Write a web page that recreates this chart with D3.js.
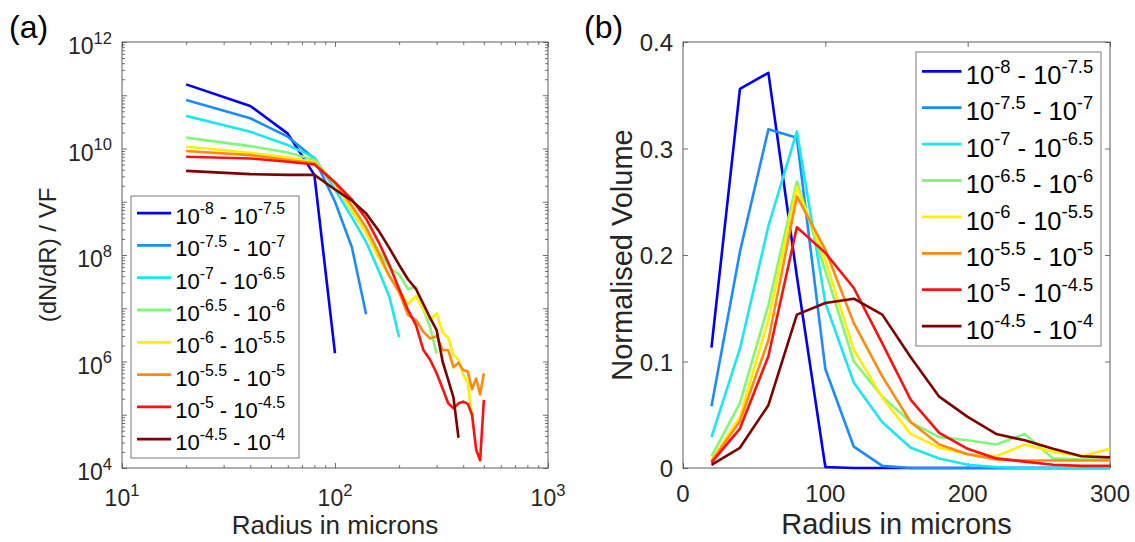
<!DOCTYPE html>
<html>
<head>
<meta charset="utf-8">
<script src="https://cdn.jsdelivr.net/npm/d3@7"></script>
<style>
  body { margin: 0; background: #fff; }
  svg { font-family: "Liberation Sans", Arial, Helvetica, sans-serif; }
</style>
</head>
<body>
<div id="chart"></div>
<script>
// radius bins (microns)
var radiiA = [20, 40, 60, 80, 100, 120, 140, 160, 180, 200, 220, 240, 260,
  280, 300, 320, 340, 360, 380, 400, 420, 440, 460, 480, 500];
var radiiB = [20, 40, 60, 80, 100, 120, 140, 160, 180, 200, 220, 240, 260, 280, 300];

// volume fraction bins, legend exponents
var binLo = ["-8", "-7.5", "-7", "-6.5", "-6", "-5.5", "-5", "-4.5"];
var binHi = ["-7.5", "-7", "-6.5", "-6", "-5.5", "-5", "-4.5", "-4"];
var lineColors = ["#0000f5", "#1a8cff", "#1ae8f0", "#80f77a", "#ffee00", "#ff8a10", "#ff1010", "#800000"];

// (a) (dN/dR)/VF, each series stops where its line stops
var dndrA1 = [1.6e11, 6.3e10, 1.9e10, 3.2e9, 1.43e6];
var dndrA2 = [8.1e10, 3.7e10, 1.67e10, 6.5e9, 1.0e9, 1.4e8, 7.7e6];
var dndrA3 = [4.1e10, 2.07e10, 1.16e10, 6.8e9, 1.7e9, 5.1e8, 1.75e8, 5.2e7, 1.65e7, 2.85e6];
var dndrA4 = [1.6e10, 1.11e10, 8.4e9, 6.1e9, 2.2e9, 6.7e8, 2.8e8, 1.2e8, 5.8e7, 4.3e7,
  2.3e7, 2.5e7, 9.5e6, 4.3e6, 1.4e6];
var dndrA5 = [1.08e10, 8.3e9, 6.8e9, 5.6e9, 2.17e9, 7.0e8, 2.6e8, 9.0e7, 4.0e7, 2.2e7,
  1.2e7, 1.7e7, 9.3e6, 6.0e6, 8.0e6, 3.5e6, 2.8e6, 1.33e6, 1.07e6, 5.6e5, 4.0e5, 9.2e4];
var dndrA6 = [9.0e9, 7.5e9, 6.1e9, 5.3e9, 2.28e9, 8.4e8, 3.3e8, 1.1e8, 4.0e7, 2.0e7,
  7.5e6, 6.0e6, 3.6e6, 2.7e6, 3.0e6, 1.64e6, 1.64e6, 7.8e5, 9.5e5, 6.9e5, 6.5e5,
  3.0e5, 4.8e5, 2.4e5, 6.0e5];
var dndrA7 = [7.0e9, 6.5e9, 5.65e9, 5.0e9, 2.3e9, 1.1e9, 4.8e8, 1.77e8, 6.5e7, 2.3e7,
  9.3e6, 4.8e6, 1.64e6, 1.07e6, 6.0e5, 3.1e5, 1.64e5, 1.32e5, 1.64e5, 1.76e5, 1.6e5,
  1.0e5, 2.2e4, 1.4e4, 1.9e5];
var dndrA8 = [3.8e9, 3.3e9, 3.2e9, 3.2e9, 1.7e9, 1.05e9, 6.0e8, 2.9e8, 1.35e8, 6.5e7,
  3.5e7, 2.3e7, 1.2e7, 6.5e6, 3.9e6, 1.0e6, 4.5e5, 2.1e5, 3.7e4];

// (b) normalised volume
var volB1 = [0.113, 0.356, 0.371, 0.180, 0.001, 0, 0, 0, 0, 0, 0, 0, 0, 0, 0];
var volB2 = [0.058, 0.203, 0.318, 0.310, 0.093, 0.020, 0.002, 0, 0, 0, 0, 0, 0, 0, 0];
var volB3 = [0.029, 0.112, 0.227, 0.316, 0.155, 0.080, 0.043, 0.019, 0.009, 0.003, 0.001, 0, 0, 0, 0];
var volB4 = [0.011, 0.061, 0.153, 0.269, 0.185, 0.100, 0.067, 0.043, 0.029, 0.026, 0.022, 0.032, 0.009, 0.008, 0.008];
var volB5 = [0.007, 0.048, 0.139, 0.264, 0.195, 0.111, 0.066, 0.032, 0.019, 0.013, 0.011, 0.022, 0.015, 0.011, 0.018];
var volB6 = [0.006, 0.044, 0.120, 0.255, 0.205, 0.136, 0.086, 0.043, 0.022, 0.013, 0.008, 0.007, 0.007, 0.007, 0.007];
var volB7 = [0.005, 0.037, 0.105, 0.226, 0.202, 0.169, 0.117, 0.064, 0.033, 0.018, 0.009, 0.006, 0.003, 0.002, 0.002];
var volB8 = [0.003, 0.019, 0.059, 0.144, 0.155, 0.159, 0.144, 0.104, 0.067, 0.048, 0.032, 0.026, 0.018, 0.011, 0.010];

// ticks
var xTicksA = [10, 100, 1000], xExpA = ["1", "2", "3"];
var yTicksA = [1e4, 1e6, 1e8, 1e10, 1e12], yExpA = ["4", "6", "8", "10", "12"];
var xTicksB = [0, 100, 200, 300];
var yTicksB = [0, 0.1, 0.2, 0.3, 0.4];

var seriesA = [dndrA1, dndrA2, dndrA3, dndrA4, dndrA5, dndrA6, dndrA7, dndrA8];
var seriesB = [volB1, volB2, volB3, volB4, volB5, volB6, volB7, volB8];

var axisColor = "#4d4d4d", textColor = "#262626";

var svg = d3.select("#chart").append("svg")
  .attr("width", 1135)
  .attr("height", 542);

var boxA = {left: 122, right: 548, top: 42, bottom: 468},
  boxB = {left: 683, right: 1110, top: 42, bottom: 468};

var xA = d3.scaleLog().domain([10, 1000]).range([boxA.left, boxA.right]);
var yA = d3.scaleLog().domain([1e4, 1e12]).range([boxA.bottom, boxA.top]);
var xB = d3.scaleLinear().domain([0, 300]).range([boxB.left, boxB.right]);
var yB = d3.scaleLinear().domain([0, 0.4]).range([boxB.bottom, boxB.top]);

var logMinor = function(lo, hi) {
  var t = [];
  for (var e = lo; e < hi; e++)
    for (var k = 2; k < 10; k++) t.push(k * Math.pow(10, e));
  return t;
};
var decades = function(lo, hi) {
  var t = [];
  for (var e = lo; e <= hi; e++) t.push(Math.pow(10, e));
  return t;
};

// ticks pointing inwards on all four sides
var drawTicks = function(box, x, y, xMajor, xMinor, yMajor, yMinor) {
  var sets = [
    [d3.axisBottom(x), "translate(0," + box.bottom + ")", xMajor, xMinor],
    [d3.axisTop(x), "translate(0," + box.top + ")", xMajor, xMinor],
    [d3.axisLeft(y), "translate(" + box.left + ",0)", yMajor, yMinor],
    [d3.axisRight(y), "translate(" + box.right + ",0)", yMajor, yMinor]
  ];
  sets.forEach(function(s) {
    [[s[2], -5], [s[3], -3]].forEach(function(t) {
      if (!t[0].length) return;
      var g = svg.append("g")
        .attr("transform", s[1])
        .call(s[0].tickValues(t[0]).tickSize(t[1]).tickFormat(""));
      g.select(".domain").remove();
      g.selectAll("line").attr("stroke", axisColor).attr("stroke-width", 0.8);
    });
  });
  svg.append("rect")
    .attr("x", box.left).attr("y", box.top)
    .attr("width", box.right - box.left).attr("height", box.bottom - box.top)
    .attr("fill", "none").attr("stroke", axisColor).attr("stroke-width", 0.9);
};

// base with superscript exponent
var powText = function(sel, base, exp, fs) {
  sel.attr("font-size", fs);
  sel.append("tspan").text(base);
  sel.append("tspan").attr("font-size", fs * 0.72).attr("dy", -fs * 0.45).text(exp);
};

var drawLegend = function(x0, y0, w, h, rowH, fs) {
  var lg = svg.append("g");
  lg.append("rect")
    .attr("x", x0).attr("y", y0).attr("width", w).attr("height", h)
    .attr("fill", "#fff").attr("stroke", "#7a7a7a").attr("stroke-width", 1);
  binLo.forEach(function(lo, i) {
    var cy = y0 + rowH * 0.53 + i * rowH;
    lg.append("line")
      .attr("x1", x0 + 6).attr("x2", x0 + 6 + fs * 1.55)
      .attr("y1", cy).attr("y2", cy)
      .attr("stroke", lineColors[i]).attr("stroke-width", 2.8);
    var t = lg.append("text")
      .attr("x", x0 + 9 + fs * 1.6).attr("y", cy + fs * 0.5)
      .attr("fill", "#000").attr("font-size", fs);
    t.append("tspan").text("10");
    t.append("tspan").attr("font-size", fs * 0.72).attr("dy", -fs * 0.45).text(lo);
    t.append("tspan").attr("dy", fs * 0.45).text(" - 10");
    t.append("tspan").attr("font-size", fs * 0.72).attr("dy", -fs * 0.45).text(binHi[i]);
  });
};

// ---------- panel (a) ----------
drawTicks(boxA, xA, yA, decades(1, 3), logMinor(1, 3), decades(4, 12), logMinor(4, 12));

svg.append("clipPath").attr("id", "clipA").append("rect")
  .attr("x", boxA.left).attr("y", boxA.top)
  .attr("width", boxA.right - boxA.left).attr("height", boxA.bottom - boxA.top);

var lineA = d3.line()
  .x(function(d) { return xA(d[0]); })
  .y(function(d) { return yA(d[1]); });

seriesA.forEach(function(vals, i) {
  svg.append("path")
    .datum(vals.map(function(v, j) { return [radiiA[j], v]; }))
    .attr("clip-path", "url(#clipA)")
    .attr("fill", "none")
    .attr("stroke", lineColors[i])
    .attr("stroke-width", 2.6)
    .attr("stroke-linejoin", "round")
    .attr("d", lineA);
});

xTicksA.forEach(function(d, i) {
  var t = svg.append("text")
    .attr("x", xA(d)).attr("y", 506)
    .attr("text-anchor", "middle").attr("fill", textColor);
  powText(t, "10", xExpA[i], 23);
});
yTicksA.forEach(function(d, i) {
  var t = svg.append("text")
    .attr("x", 112).attr("y", yA(d) + 12)
    .attr("text-anchor", "end").attr("fill", textColor);
  powText(t, "10", yExpA[i], 23);
});

svg.append("text")
  .attr("x", (boxA.left + boxA.right) / 2).attr("y", 534)
  .attr("text-anchor", "middle").attr("font-size", 26).attr("fill", textColor)
  .text("Radius in microns");
svg.append("text")
  .attr("transform", "translate(56," + (boxA.top + boxA.bottom) / 2 + ") rotate(-90)")
  .attr("text-anchor", "middle").attr("font-size", 24).attr("fill", textColor)
  .text("(dN/dR) / VF");
svg.append("text")
  .attr("x", 9).attr("y", 38).attr("font-size", 32).attr("fill", "#000")
  .text("(a)");

drawLegend(131, 196, 168, 262, 32.3, 22);

// ---------- panel (b) ----------
drawTicks(boxB, xB, yB, xTicksB, [], yTicksB, []);

svg.append("clipPath").attr("id", "clipB").append("rect")
  .attr("x", boxB.left).attr("y", boxB.top)
  .attr("width", boxB.right - boxB.left).attr("height", boxB.bottom - boxB.top + 2);

var lineB = d3.line()
  .x(function(d) { return xB(d[0]); })
  .y(function(d) { return yB(d[1]); });

seriesB.forEach(function(vals, i) {
  svg.append("path")
    .datum(vals.map(function(v, j) { return [radiiB[j], v]; }))
    .attr("clip-path", "url(#clipB)")
    .attr("fill", "none")
    .attr("stroke", lineColors[i])
    .attr("stroke-width", 2.6)
    .attr("stroke-linejoin", "round")
    .attr("d", lineB);
});

svg.selectAll(".xlabB").data(xTicksB).enter().append("text")
  .attr("x", function(d) { return xB(d); }).attr("y", 502)
  .attr("text-anchor", "middle").attr("font-size", 24).attr("fill", textColor)
  .text(function(d) { return d; });
svg.selectAll(".ylabB").data(yTicksB).enter().append("text")
  .attr("x", 673).attr("y", function(d) { return yB(d) + 9; })
  .attr("text-anchor", "end").attr("font-size", 24).attr("fill", textColor)
  .text(function(d) { return d; });

svg.append("text")
  .attr("x", (boxB.left + boxB.right) / 2).attr("y", 534)
  .attr("text-anchor", "middle").attr("font-size", 29).attr("fill", textColor)
  .text("Radius in microns");
svg.append("text")
  .attr("transform", "translate(632," + (boxB.top + boxB.bottom) / 2 + ") rotate(-90)")
  .attr("text-anchor", "middle").attr("font-size", 29).attr("fill", textColor)
  .text("Normalised Volume");
svg.append("text")
  .attr("x", 584).attr("y", 38).attr("font-size", 32).attr("fill", "#000")
  .text("(b)");

drawLegend(916, 52, 185, 294, 36.4, 25.5);
</script>
</body>
</html>
